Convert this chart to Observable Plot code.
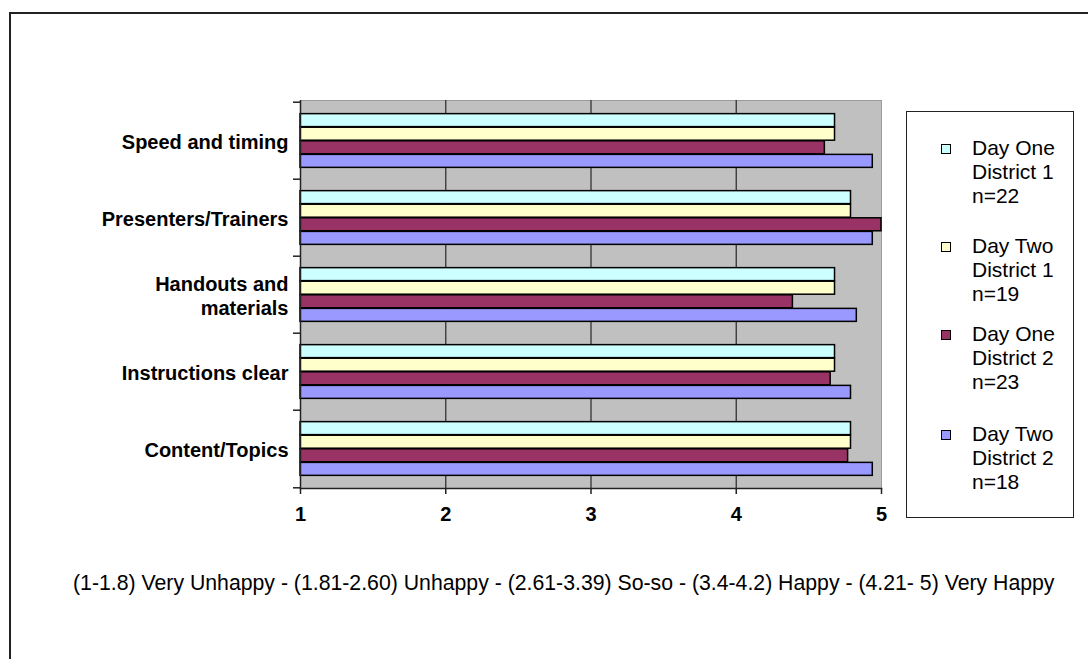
<!DOCTYPE html>
<html><head><meta charset="utf-8">
<script src="https://cdn.jsdelivr.net/npm/d3@7"></script>
<script src="https://cdn.jsdelivr.net/npm/@observablehq/plot@0.6"></script>
<style>
html,body{margin:0;padding:0;background:#fff;overflow:hidden}
body{width:1088px;height:659px;position:relative;font-family:"Liberation Sans",Arial,sans-serif;color:#000}
#frame{position:absolute;left:9px;top:12px;width:1200px;height:800px;border:2px solid #222;box-sizing:border-box}
#chart{position:absolute;left:0;top:0}
#legend{position:absolute;left:906px;top:111px;width:168px;height:407px;border:1px solid #222;box-sizing:border-box;background:#fff}
.item{position:absolute;left:65px;font-size:21px;line-height:24px;white-space:pre}
.swatch{position:absolute;width:8px;height:8px;border:1.5px solid #000}
#caption{position:absolute;left:73px;top:570px;font-size:21.25px;line-height:26px;white-space:nowrap}
</style></head><body>
<div id="frame"></div>
<div id="chart"></div>
<div id="legend"></div>
<div id="caption"></div>
<script>
// ---- data ----
const categories = ["Speed and timing", "Presenters/Trainers", "Handouts and materials", "Instructions clear", "Content/Topics"];
const categoryLabels = ["Speed and timing", "Presenters/Trainers", "Handouts and\nmaterials", "Instructions clear", "Content/Topics"];
const seriesNames = ["Day One District 1 n=22", "Day Two District 1 n=19", "Day One District 2 n=23", "Day Two District 2 n=18"];
const legendLabels = ["Day One\nDistrict 1\nn=22", "Day Two\nDistrict 1\nn=19", "Day One\nDistrict 2\nn=23", "Day Two\nDistrict 2\nn=18"];
const dayOneDistrict1 = [4.68, 4.79, 4.68, 4.68, 4.79];
const dayTwoDistrict1 = [4.68, 4.79, 4.68, 4.68, 4.79];
const dayOneDistrict2 = [4.61, 5.00, 4.39, 4.65, 4.77];
const dayTwoDistrict2 = [4.94, 4.94, 4.83, 4.79, 4.94];
const seriesColors = ["#CCFFFF", "#FFFFCC", "#993366", "#9999FF"];
const xTicks = [1, 2, 3, 4, 5];
const xTickLabels = ["1", "2", "3", "4", "5"];
const captionText = "(1-1.8) Very Unhappy - (1.81-2.60) Unhappy - (2.61-3.39) So-so - (3.4-4.2) Happy - (4.21- 5) Very Happy";

const seriesValues = [dayOneDistrict1, dayTwoDistrict1, dayOneDistrict2, dayTwoDistrict2];

// ---- layout ----
const W = 900, H = 530, mt = 100, mb = 42, ml = 300, mr = 19;
const step = (H - mt - mb) / categories.length;
const barH = step * 0.175;
const gap = (step - seriesNames.length * barH) / 2;
const xMin = xTicks[0];

const barMarks = seriesNames.map((s, i) =>
  Plot.barX(categories.map((c, j) => ({category: c, series: s, value: seriesValues[i][j]})), {
    y: "category", x1: () => xMin, x2: "value",
    fill: seriesColors[i], stroke: "#000", strokeWidth: 1.5,
    insetTop: gap + i * barH, insetBottom: step - gap - (i + 1) * barH
  })
);

const labelOf = new Map(categories.map((c, i) => [c, categoryLabels[i]]));
const tickLabelOf = new Map(xTicks.map((t, i) => [t, xTickLabels[i]]));

const chart = Plot.plot({
  width: W, height: H,
  marginLeft: ml, marginRight: mr, marginTop: mt, marginBottom: mb,
  style: {fontFamily: "'Liberation Sans', Arial, sans-serif", color: "#000", background: "transparent"},
  x: {domain: [1, 5]},
  y: {type: "band", domain: categories, paddingInner: 0, paddingOuter: 0},
  marks: [
    Plot.frame({fill: "#C0C0C0", stroke: "#9a9a9a", strokeWidth: 1}),
    Plot.gridX({ticks: [2, 3, 4], stroke: "#333", strokeOpacity: 1, strokeWidth: 1.3}),
    ...barMarks,
    Plot.ruleX([xMin], {stroke: "#222", strokeWidth: 1.5}),
    Plot.frame({anchor: "bottom", stroke: "#222", strokeWidth: 1.5}),
    Plot.ruleY(categories, {y: d => d, x1: () => xMin, x2: () => xMin, insetLeft: -7, dy: -step / 2, stroke: "#222", strokeWidth: 1.5}),
    Plot.ruleY(categories.slice(-1), {y: d => d, x1: () => xMin, x2: () => xMin, insetLeft: -7, dy: step / 2, stroke: "#222", strokeWidth: 1.5}),
    Plot.axisX({ticks: xTicks, tickSize: 6, tickPadding: 12, fontSize: 20, fontWeight: "bold", label: null, tickFormat: d => tickLabelOf.get(d), stroke: "#222", strokeWidth: 1.5}),
    Plot.axisY({tickSize: 0, tickPadding: 12, fontSize: 20, fontWeight: "bold", label: null, lineHeight: 1.2, tickFormat: d => labelOf.get(d)})
  ]
});
document.getElementById("chart").appendChild(chart);

// ---- legend ----
const legend = document.getElementById("legend");
const itemTops = [24, 122, 210, 310];
legendLabels.forEach((lab, i) => {
  const t = document.createElement("div");
  t.className = "item";
  t.style.top = itemTops[i] + "px";
  t.textContent = lab;
  legend.appendChild(t);
  const sw = document.createElement("div");
  sw.className = "swatch";
  sw.style.left = "34px";
  sw.style.top = (itemTops[i] + 8) + "px";
  sw.style.background = seriesColors[i];
  legend.appendChild(sw);
});

document.getElementById("caption").textContent = captionText;
</script>
</body></html>
